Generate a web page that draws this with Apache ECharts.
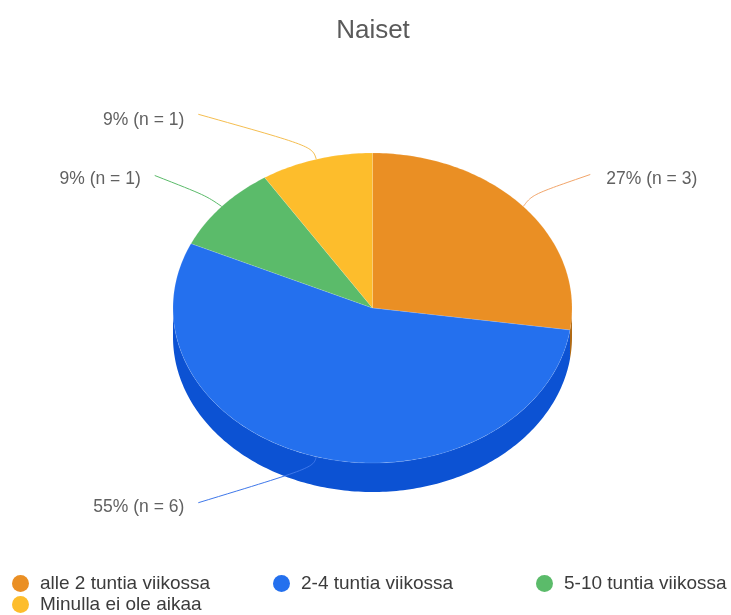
<!DOCTYPE html>
<html><head><meta charset="utf-8">
<style>html,body{margin:0;padding:0;background:#fff}#c{width:731px;height:615px}</style>
<script src="https://cdn.jsdelivr.net/npm/echarts@6/dist/echarts.min.js"></script>
</head><body><div id="c"></div>
<script>
const titleText = 'Naiset';
const categories = ['alle 2 tuntia viikossa', '2-4 tuntia viikossa', '5-10 tuntia viikossa', 'Minulla ei ole aikaa'];
const values = [3, 6, 1, 1];
const topColors = ['#EA8F24', '#2470EE', '#5BBB6A', '#FDBD2C'];
const sideColors = ['#B06A14', '#0C52D3', '#3F8F4C', '#C48F1A'];
const leaderColors = ['#F2A56A', '#3F78EA', '#5BBB6A', '#F5BE50'];

// layout
const CX = 372.5, CY = 308, RX = 199.5, RY = 155, DEPTH = 29;
const leaderEnds = [[67, -32], [-118, 46], [-67, -31], [-118, -45]];
const leaderCtrl = [[9, -12], [-3, 11], [-16, -11], [-4, -13]];
const labelDy = [5, 4, 4, 6];
const legendPos = [[12, 574], [273, 574], [536, 574], [12, 595]];

const total = values.reduce((a, b) => a + b, 0);
const starts = values.map((_, i) => values.slice(0, i).reduce((a, b) => a + b, 0) / total * 360);

function rim(deg, dy) {
  const r = deg * Math.PI / 180;
  return [CX + RX * Math.sin(r), CY - RY * Math.cos(r) + (dy || 0)];
}
function arc(a, b, dy) {
  const pts = [];
  const n = Math.max(2, Math.ceil(Math.abs(b - a)));
  for (let k = 0; k <= n; k++) pts.push(rim(a + (b - a) * k / n, dy));
  return pts;
}
function renderSlice(i) {
  return function (params, api) {
    const v = api.value(0);
    const a = starts[i], b = a + v / total * 360, mid = (a + b) / 2;
    const children = [];
    const sa = Math.max(a, 90), sb = Math.min(b, 270);
    if (sb > sa) {
      children.push({
        type: 'polygon',
        shape: { points: arc(sa, sb, 0).concat(arc(sb, sa, DEPTH)) },
        style: { fill: sideColors[i] }
      });
    }
    children.push({
      type: 'polygon',
      shape: { points: [[CX, CY]].concat(arc(a, b, 0)) },
      style: { fill: topColors[i], stroke: 'rgba(255,255,255,0.12)', lineWidth: 1, lineJoin: 'round' }
    });
    const s = rim(mid, 0), e = leaderEnds[i], c = leaderCtrl[i];
    const ex = s[0] + e[0], ey = s[1] + e[1];
    children.push({
      type: 'bezierCurve',
      shape: {
        x1: s[0], y1: s[1], x2: ex, y2: ey,
        cpx1: s[0] + c[0], cpy1: s[1] + c[1],
        cpx2: s[0] + c[0], cpy2: s[1] + c[1]
      },
      style: { stroke: leaderColors[i], fill: null, lineWidth: 1 }
    });
    children.push({
      type: 'text',
      x: ex + (e[0] > 0 ? 16 : -14),
      y: ey + labelDy[i],
      style: {
        text: Math.round(v / total * 100) + '% (n = ' + v + ')',
        fill: '#616161',
        font: '17.5px "Liberation Sans"',
        align: e[0] > 0 ? 'left' : 'right',
        verticalAlign: 'middle'
      }
    });
    return { type: 'group', children };
  };
}

const chart = echarts.init(document.getElementById('c'), null, { renderer: 'canvas' });
chart.setOption({
  backgroundColor: '#fff',
  animation: false,
  title: {
    text: titleText, left: 368, top: 13, textAlign: 'center',
    textVerticalAlign: 'top',
    textStyle: { fontFamily: 'Liberation Sans', fontSize: 26, fontWeight: 'normal', color: '#5a5a5a' }
  },
  legend: categories.map((name, i) => ({
    data: [name],
    left: legendPos[i][0], top: legendPos[i][1],
    padding: 0,
    icon: 'circle', itemWidth: 17, itemHeight: 18,
    selectedMode: false,
    textStyle: { fontFamily: 'Liberation Sans', fontSize: 19, color: '#3c3c3c', padding: [0, 0, 0, 6] }
  })),
  series: categories.map((name, i) => ({
    type: 'custom',
    name,
    coordinateSystem: 'none',
    itemStyle: { color: topColors[i] },
    silent: true,
    data: [[values[i]]],
    renderItem: renderSlice(i)
  }))
});
</script></body></html>
